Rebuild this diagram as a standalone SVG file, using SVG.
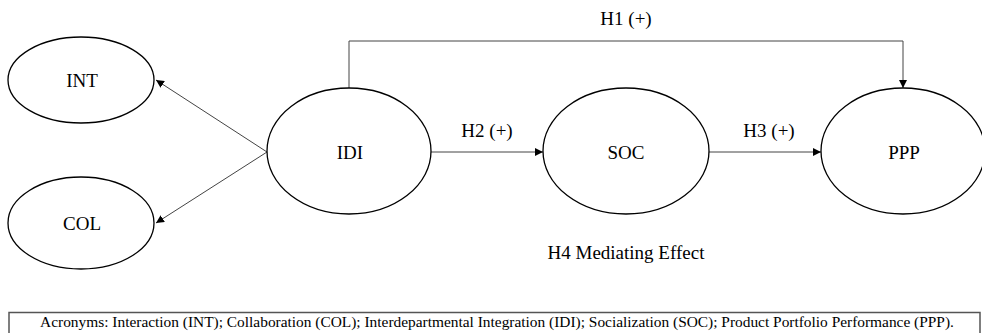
<svg xmlns="http://www.w3.org/2000/svg" width="982" height="333" viewBox="0 0 982 333">
<style>
  .node { fill: #ffffff; stroke: #000000; stroke-width: 1.3; }
  .lbl { font-family: "Liberation Serif", "Times New Roman", serif; font-size: 19px; fill: #000000; text-anchor: middle; }
  .edge { fill: none; stroke: #444444; stroke-width: 1; }
  .note { font-family: "Liberation Serif", "Times New Roman", serif; font-size: 15.4px; fill: #000000; text-anchor: middle; }
</style>
<defs>
  <marker id="arrow" viewBox="0 0 10 10" refX="10" refY="5" markerWidth="8" markerHeight="8" markerUnits="userSpaceOnUse" orient="auto">
    <path d="M0,0 L10,5 L0,10 z" fill="#000000"/>
  </marker>
</defs>
<rect width="982" height="333" fill="#ffffff"/>

<g id="connectors">
  <line class="edge" x1="267" y1="152" x2="156" y2="80" marker-end="url(#arrow)"/>
  <line class="edge" x1="267" y1="152" x2="156" y2="223" marker-end="url(#arrow)"/>
  <path class="edge" d="M349,88 V41 H903 V88" marker-end="url(#arrow)"/>
  <line class="edge" x1="431" y1="152" x2="543" y2="152" marker-end="url(#arrow)"/>
  <line class="edge" x1="709" y1="152" x2="821" y2="152" marker-end="url(#arrow)"/>
  <text class="lbl" x="626" y="25">H1 (+)</text>
  <text class="lbl" x="487" y="137">H2 (+)</text>
  <text class="lbl" x="769" y="137">H3 (+)</text>
</g>

<g id="INT">
  <ellipse class="node" cx="81" cy="80" rx="73" ry="43"/>
  <text class="lbl" x="82" y="87">INT</text>
</g>
<g id="COL">
  <ellipse class="node" cx="81" cy="223" rx="73" ry="46"/>
  <text class="lbl" x="82" y="230">COL</text>
</g>
<g id="IDI">
  <ellipse class="node" cx="349" cy="151" rx="82" ry="63"/>
  <text class="lbl" x="350" y="159">IDI</text>
</g>
<g id="SOC">
  <ellipse class="node" cx="626" cy="151" rx="83" ry="63"/>
  <text class="lbl" x="626" y="159">SOC</text>
</g>
<g id="PPP">
  <ellipse class="node" cx="903" cy="151" rx="82" ry="63"/>
  <text class="lbl" x="904" y="159">PPP</text>
</g>

<g id="mediating">
  <text class="lbl" x="626" y="259">H4 Mediating Effect</text>
</g>

<g id="legend">
  <rect x="9" y="312.5" width="971" height="40" fill="none" stroke="#555555" stroke-width="1.5"/>
  <text class="note" x="497" y="327">Acronyms: Interaction (INT); Collaboration (COL); Interdepartmental Integration (IDI); Socialization (SOC); Product Portfolio Performance (PPP).</text>
</g>
</svg>
